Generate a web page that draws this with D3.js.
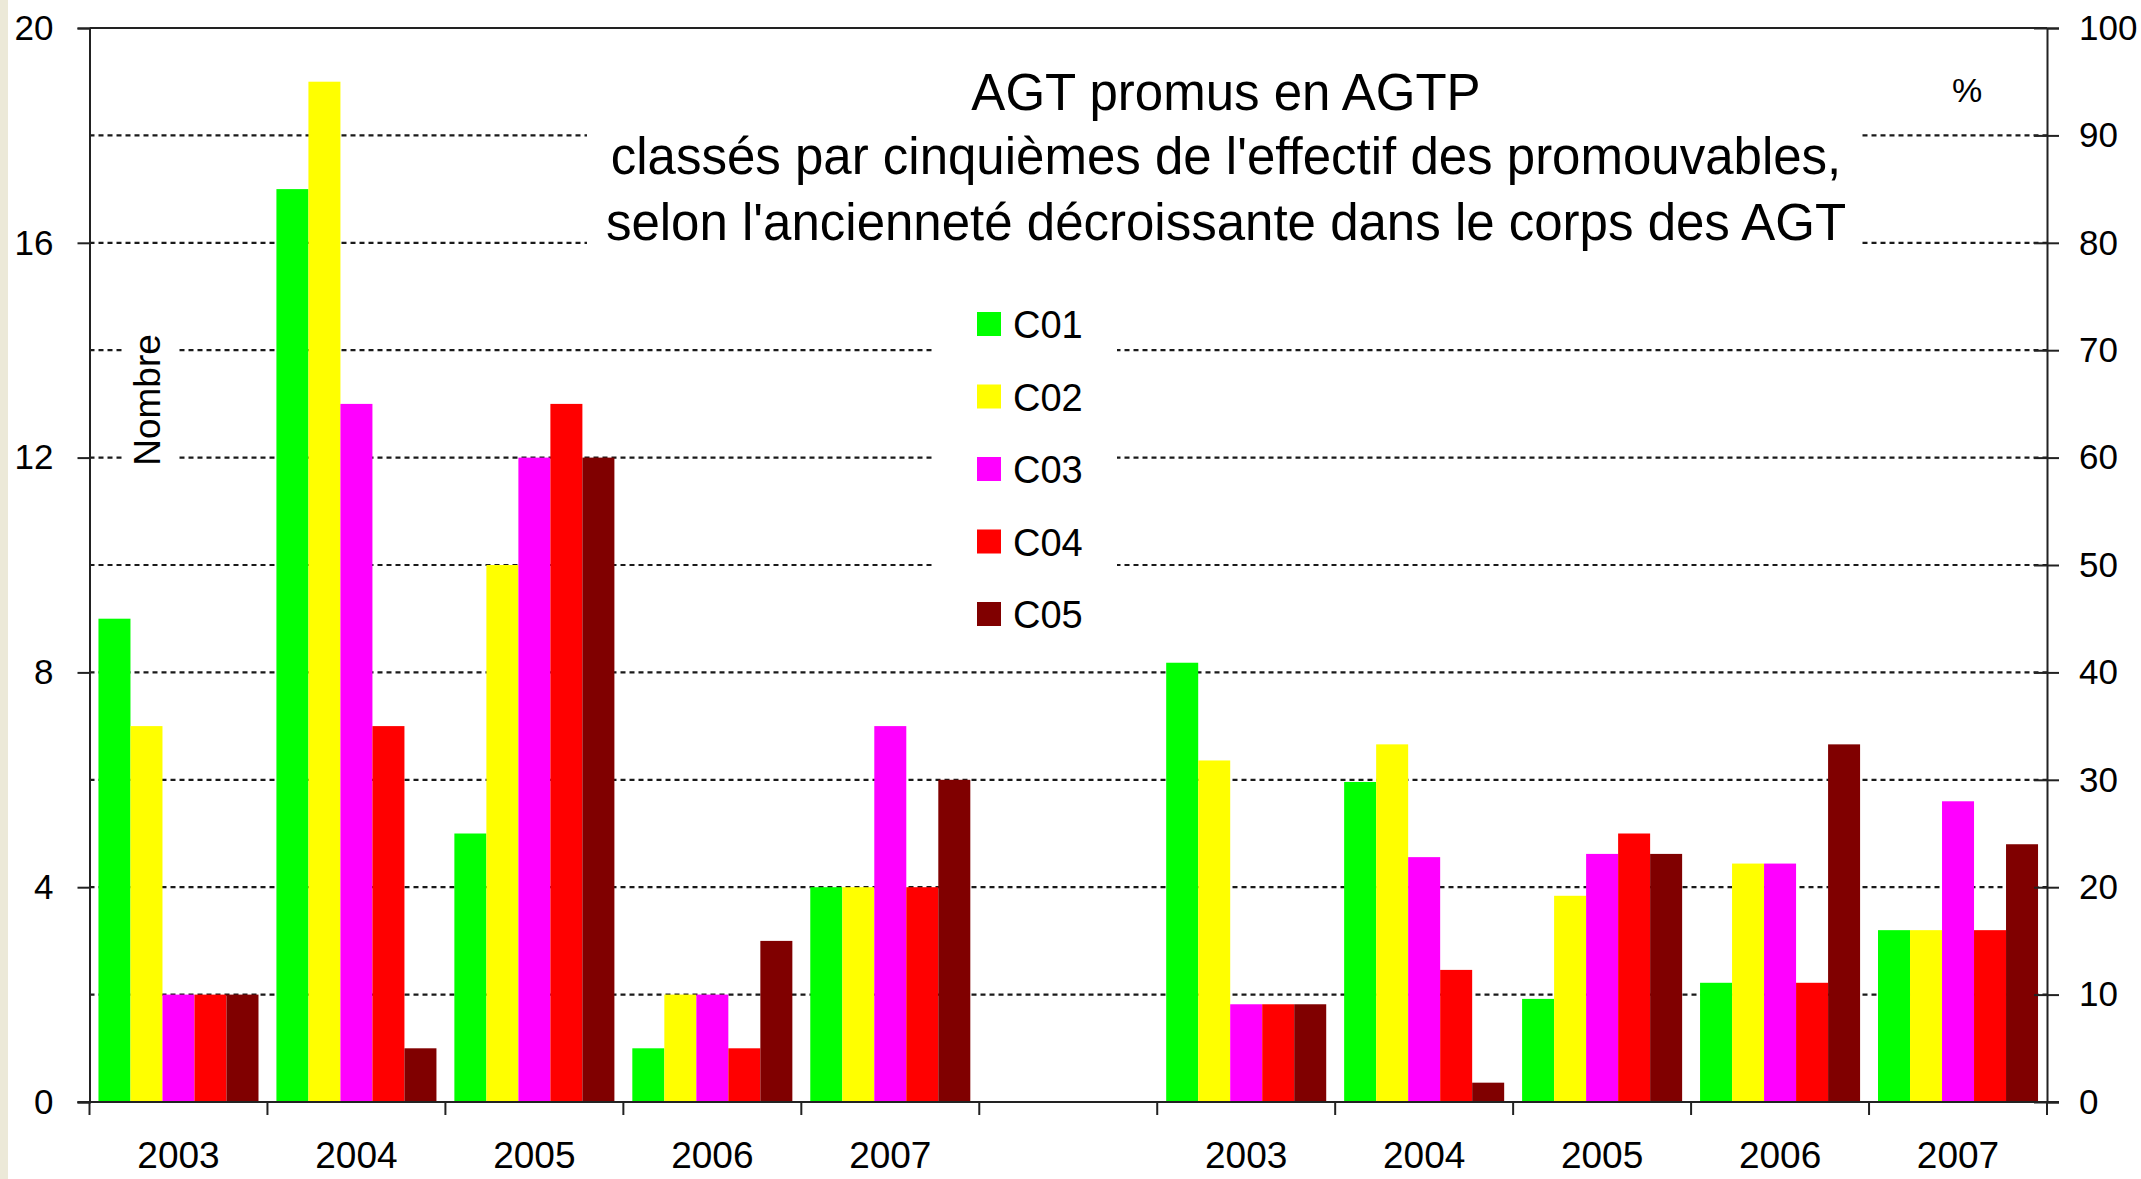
<!DOCTYPE html>
<html lang="fr">
<head>
<meta charset="UTF-8">
<title>AGT promus en AGTP</title>
<script src="https://d3js.org/d3.v7.min.js"></script>
<style>
  body { margin: 0; background: #fff; }
  svg { display: block; }
  text { font-family: "Liberation Sans", Arial, sans-serif; fill: #000; }
  .grid { stroke: #1a1a1a; stroke-width: 2.2px; stroke-dasharray: 5,4; }
  .axisline { stroke: #222; stroke-width: 2px; }
</style>
</head>
<body>
<script>
// years shown under both groups
const years = ["2003", "2004", "2005", "2006", "2007"];
const series = ["C01", "C02", "C03", "C04", "C05"];
const colors = ["#00ff00", "#ffff00", "#ff00ff", "#ff0000", "#800000"];

// left group : number of promoted agents
const countC01 = [9, 17, 5, 1, 4];
const countC02 = [7, 19, 10, 2, 4];
const countC03 = [2, 13, 12, 2, 7];
const countC04 = [2, 7, 13, 1, 4];
const countC05 = [2, 1, 12, 3, 6];

// right group : percentage of the year
const pctC01 = [40.9, 29.8, 9.6, 11.1, 16.0];
const pctC02 = [31.8, 33.3, 19.2, 22.2, 16.0];
const pctC03 = [9.1, 22.8, 23.1, 22.2, 28.0];
const pctC04 = [9.1, 12.3, 25.0, 11.1, 16.0];
const pctC05 = [9.1, 1.8, 23.1, 33.3, 24.0];

const leftTicks = [0, 4, 8, 12, 16, 20];
const rightTicks = [0, 10, 20, 30, 40, 50, 60, 70, 80, 90, 100];
const gridTicks = [2, 4, 6, 8, 10, 12, 14, 16, 18];

const titleLines = [
  "AGT promus en AGTP",
  "classés par cinquièmes de l'effectif des promouvables,",
  "selon l'ancienneté décroissante dans le corps des AGT"
];

const W = 2141, H = 1179;
const plot = {left: 89.5, right: 2047, top: 28, bottom: 1102};

const svg = d3.select("body").append("svg")
  .attr("width", W).attr("height", H);

// beige strip at left edge
svg.append("rect").attr("x", 0).attr("y", 0).attr("width", 8).attr("height", H)
  .attr("fill", "#ece9d8");

const counts = [countC01, countC02, countC03, countC04, countC05];
const pcts = [pctC01, pctC02, pctC03, pctC04, pctC05];

// 11 slots: 5 years, a blank one, 5 years
const slots = years.map(y => "n" + y).concat(["gap"]).concat(years.map(y => "p" + y));

const x0 = d3.scaleBand().domain(slots).range([plot.left, plot.right]).padding(0);
const x1 = d3.scaleBand().domain(series).range([0, x0.bandwidth()])
  .paddingInner(0).paddingOuter(0.28);

const yLeft = d3.scaleLinear().domain([0, 20]).range([plot.bottom, plot.top]);
const yRight = d3.scaleLinear().domain([0, 100]).range([plot.bottom, plot.top]);

// dashed gridlines
svg.append("g").selectAll("line").data(gridTicks).join("line")
  .attr("class", "grid")
  .attr("x1", plot.left).attr("x2", plot.right)
  .attr("y1", d => yLeft(d)).attr("y2", d => yLeft(d));

// bars
const rows = [];
years.forEach((yr, i) => {
  series.forEach((s, j) => {
    rows.push({slot: "n" + yr, s: s, c: colors[j], y: yLeft(counts[j][i])});
    rows.push({slot: "p" + yr, s: s, c: colors[j], y: yRight(pcts[j][i])});
  });
});
svg.append("g").selectAll("rect").data(rows).join("rect")
  .attr("x", d => x0(d.slot) + x1(d.s))
  .attr("width", x1.bandwidth())
  .attr("y", d => d.y)
  .attr("height", d => plot.bottom - d.y)
  .attr("fill", d => d.c);

// white boxes behind texts (they hide the gridlines)
svg.append("rect").attr("x", 587).attr("y", 42).attr("width", 1273).attr("height", 214)
  .attr("fill", "#fff");
svg.append("rect").attr("x", 933).attr("y", 285).attr("width", 184).attr("height", 362)
  .attr("fill", "#fff");
svg.append("rect").attr("x", 122).attr("y", 322).attr("width", 56).attr("height", 156)
  .attr("fill", "#fff");

// title
svg.append("g").selectAll("text").data(titleLines).join("text")
  .attr("x", 1226)
  .attr("y", (d, i) => [110, 174, 240][i])
  .attr("text-anchor", "middle")
  .style("font-size", "51px")
  .text(d => d);

svg.append("text").attr("x", 1967).attr("y", 102)
  .attr("text-anchor", "middle").style("font-size", "34px").text("%");

svg.append("text")
  .attr("transform", "translate(160,400) rotate(-90)")
  .attr("text-anchor", "middle")
  .style("font-size", "37px")
  .text("Nombre");

// legend
const leg = svg.append("g").selectAll("g").data(series).join("g")
  .attr("transform", (d, i) => `translate(977,${324 + i * 72.5})`);
leg.append("rect").attr("x", 0).attr("y", -12).attr("width", 24).attr("height", 24)
  .attr("fill", (d, i) => colors[i]);
leg.append("text").attr("x", 36).attr("y", 14).style("font-size", "38px").text(d => d);

// axes frame
svg.append("line").attr("class", "axisline")
  .attr("x1", plot.left).attr("x2", plot.right).attr("y1", plot.top).attr("y2", plot.top);

const axL = svg.append("g").attr("transform", `translate(${plot.left},0)`)
  .call(d3.axisLeft(yLeft).tickValues(leftTicks).tickSize(12).tickPadding(24));
const axR = svg.append("g").attr("transform", `translate(${plot.right},0)`)
  .call(d3.axisRight(yRight).tickValues(rightTicks).tickSize(12).tickPadding(20));
axR.selectAll(".tick line").attr("x1", -13);

[axL, axR].forEach(ax => {
  ax.select(".domain").attr("stroke", "#222").attr("stroke-width", 2);
  ax.selectAll(".tick line").attr("stroke", "#222").attr("stroke-width", 2);
  ax.selectAll(".tick text").style("font-size", "35px")
    .style("font-family", "'Liberation Sans', Arial, sans-serif").attr("fill", "#000");
});

// category axis
svg.append("line").attr("class", "axisline")
  .attr("x1", plot.left - 12).attr("x2", plot.right + 12)
  .attr("y1", plot.bottom).attr("y2", plot.bottom);
const bounds = slots.map(s => x0(s)).concat([plot.right]);
svg.append("g").selectAll("line").data(bounds).join("line")
  .attr("class", "axisline")
  .attr("x1", d => d).attr("x2", d => d)
  .attr("y1", plot.bottom).attr("y2", plot.bottom + 13);
svg.append("g").selectAll("text").data(slots.filter(s => s !== "gap")).join("text")
  .attr("x", d => x0(d) + x0.bandwidth() / 2)
  .attr("y", 1168)
  .attr("text-anchor", "middle")
  .style("font-size", "37px")
  .text(d => d.slice(1));
</script>
</body>
</html>
